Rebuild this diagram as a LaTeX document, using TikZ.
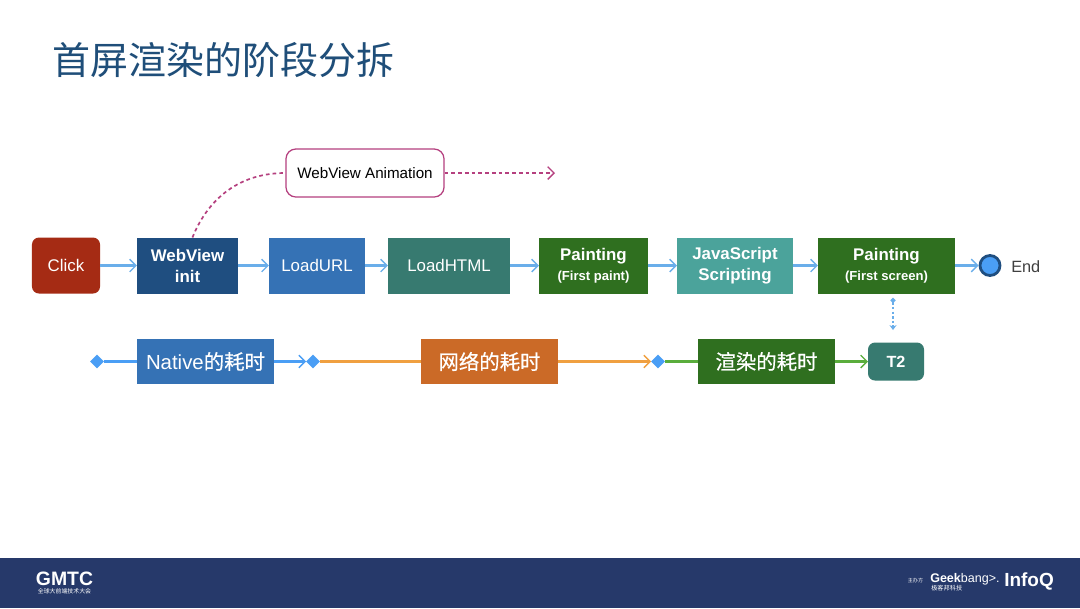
\documentclass[tikz,border=0pt]{standalone}
\usepackage{fontspec}
\setmainfont{Liberation Sans}
\newfontfamily\cjk{Noto Sans CJK SC}
\newfontfamily\cjkmid[FakeBold=0.5]{Noto Sans CJK SC}
\usetikzlibrary{arrows.meta}
\usetikzlibrary{shapes.geometric}
\definecolor{titleblue}{HTML}{1F4E79}
\definecolor{footerblue}{HTML}{26396A}
\definecolor{clickred}{HTML}{A52B14}
\definecolor{initblue}{HTML}{1F4E80}
\definecolor{urlblue}{HTML}{3572B5}
\definecolor{htmlteal}{HTML}{377A70}
\definecolor{paintgreen}{HTML}{2F6F1F}
\definecolor{jsteal}{HTML}{4BA39B}
\definecolor{netorange}{HTML}{CB6A27}
\definecolor{linkblue}{HTML}{6AAEEA}
\definecolor{markblue}{HTML}{4A9EF5}
\definecolor{lineorange}{HTML}{F0A040}
\definecolor{linegreen}{HTML}{5AAD3C}
\definecolor{animpink}{HTML}{B5407F}
\tikzstyle{box} = [rectangle, fill=#1, inner sep=0pt, outer sep=0pt, minimum height=1.4cm, text=white, align=center, font=\fontsize{12}{15}\selectfont]
\tikzstyle{wide} = [rectangle, fill=#1, inner sep=0pt, outer sep=0pt, minimum height=1.125cm, text=white, font=\fontsize{14.5}{17}\selectfont]
\tikzstyle{stagemark} = [diamond, fill=markblue, inner sep=0pt, outer sep=0pt, minimum size=.34cm]
\tikzstyle{link} = [line width=1.5pt, -{Straight Barb[length=4.5pt,width=9pt,line width=1pt]}]
\begin{document}
\begin{tikzpicture}[x=0.025cm,y=-0.025cm]
			\useasboundingbox (0,0) rectangle (1080,608);
			\fill[white] (0,0) rectangle (1080,608);
			\fill[footerblue] (0,558) rectangle (1080,608);
			\node[text=titleblue,anchor=west,inner sep=0pt,font=\fontsize{27}{30}\selectfont\cjk] (title) at (52,60) {首屏渲染的阶段分拆};
			\node[box=clickred,rounded corners=5pt,minimum width=1.7cm] (click) at (66,265.5) {Click};
			\node[box=initblue,minimum width=2.525cm,font=\fontsize{12}{15}\selectfont\bfseries] (init) at (187.5,265.5) {WebView\\init};
			\node[box=urlblue,minimum width=2.4cm] (url) at (317,265.5) {LoadURL};
			\node[box=htmlteal,minimum width=3.05cm] (html) at (449,265.5) {LoadHTML};
			\node[box=paintgreen,minimum width=2.725cm] (paintA) at (593.5,265.5) {\textbf{Painting}\\[-1pt]{\fontsize{9.3}{11}\selectfont\bfseries (First paint)}};
			\node[box=jsteal,minimum width=2.9cm,font=\fontsize{12}{15}\selectfont\bfseries] (js) at (735,265.5) {JavaScript\\Scripting};
			\node[box=paintgreen,minimum width=3.425cm] (paintB) at (886.5,265.5) {\textbf{Painting}\\[-1pt]{\fontsize{9.3}{11}\selectfont\bfseries (First screen)}};
			\node[circle,fill=markblue,draw=initblue,line width=2pt,inner sep=0pt,minimum size=.5cm] (endmark) at (990,265.5) {};
			\node[anchor=west,inner sep=0pt,text=black!75,font=\fontsize{11.6}{14}\selectfont] (endtext) at (1011,267) {End};
			\node[rectangle,rounded corners=7pt,draw=animpink,fill=white,line width=.9pt,minimum width=3.95cm,minimum height=1.2cm,inner sep=0pt,font=\fontsize{10.8}{13}\selectfont] (anim) at (365,173) {WebView Animation};
			\coordinate (animend) at (555,173);
			\node[stagemark] (markA) at (97,361.5) {};
			\node[wide=urlblue,minimum width=3.425cm] (native) at (205.5,361.5) {Native{\cjkmid 的耗时}};
			\node[stagemark] (markB) at (313,361.5) {};
			\node[wide=netorange,minimum width=3.425cm,font=\fontsize{14.5}{17}\selectfont\cjkmid] (net) at (489.5,361.5) {网络的耗时};
			\node[stagemark] (markC) at (658,361.5) {};
			\node[wide=paintgreen,minimum width=3.425cm,font=\fontsize{14.5}{17}\selectfont\cjkmid] (render) at (766.5,361.5) {渲染的耗时};
			\node[rectangle,rounded corners=5pt,fill=htmlteal,text=white,minimum width=1.4cm,minimum height=.95cm,inner sep=0pt,outer sep=0pt,font=\fontsize{11.5}{14}\selectfont\bfseries] (t2) at (896,361.5) {T2};
			\coordinate (dotA) at (893,298);
			\coordinate (dotB) at (893,330);
			\draw[link,linkblue] (click) -- (init);
			\draw[link,linkblue] (init) -- (url);
			\draw[link,linkblue] (url) -- (html);
			\draw[link,linkblue] (html) -- (paintA);
			\draw[link,linkblue] (paintA) -- (js);
			\draw[link,linkblue] (js) -- (paintB);
			\draw[link,linkblue] (paintB) -- (endmark);
			\draw[animpink,line width=1.2pt,dash pattern=on 2.6pt off 2.2pt] (init.80) to[out=68,in=180] (anim.west);
			\draw[link,animpink,line width=1.2pt,dash pattern=on 2.6pt off 2.2pt] (anim.east) -- (animend);
			\draw[linkblue,line width=1pt,dash pattern=on 1.8pt off 1.5pt,{Circle[length=3.5pt]}-{Stealth[length=3.5pt,width=5pt]}] (dotA) -- (dotB);
			\draw[markblue,line width=1.5pt] (markA) -- (native);
			\draw[link,markblue] (native) -- (markB);
			\draw[lineorange,line width=1.5pt] (markB) -- (net);
			\draw[link,lineorange] (net) -- (markC);
			\draw[linegreen,line width=1.5pt] (markC) -- (render);
			\draw[link,linegreen] (render) -- (t2);
			\node[text=white,inner sep=0pt,font=\fontsize{13.8}{15}\selectfont\bfseries] (gmtc) at (64.5,579) {GMTC};
			\node[text=white,inner sep=0pt,font=\fontsize{4.2}{5}\selectfont\cjk] (gmtcsub) at (64.5,591) {全球大前端技术大会};
			\node[text=white,inner sep=0pt,font=\fontsize{3.6}{4}\selectfont\cjk] (host) at (915.5,581) {主办方};
			\node[text=white,anchor=west,inner sep=0pt,font=\fontsize{8.9}{10}\selectfont] (geek) at (930,579.5) {\textbf{Geek}bang>.};
			\node[text=white,anchor=west,inner sep=0pt,font=\fontsize{4.4}{5}\selectfont\cjk] (geeksub) at (931,588.5) {极客邦科技};
			\node[text=white,anchor=west,inner sep=0pt,font=\fontsize{13.5}{14}\selectfont\bfseries] (infoq) at (1004,581) {InfoQ};
		\end{tikzpicture}
\end{document}
